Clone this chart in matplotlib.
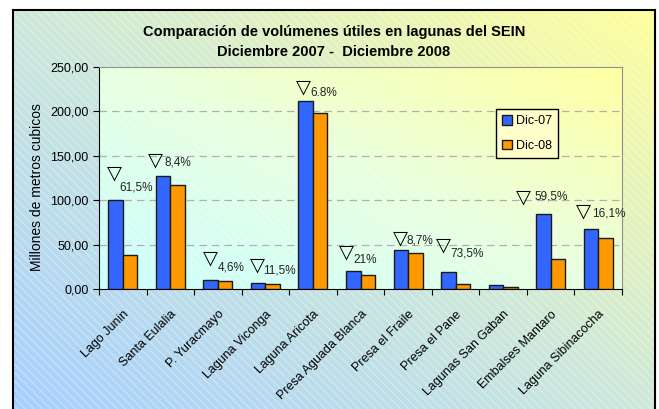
import numpy as np
import matplotlib
matplotlib.use("Agg")
import matplotlib.pyplot as plt
from matplotlib.colors import LinearSegmentedColormap
from matplotlib.patches import Rectangle

categories = ["Lago Junin", "Santa Eulalia", "P. Yuracmayo", "Laguna Viconga",
              "Laguna Aricota", "Presa Aguada Blanca", "Presa el Fraile",
              "Presa el Pane", "Lagunas San Gaban", "Embalses Mantaro",
              "Laguna Sibinacocha"]
dic07 = [100.2, 127.3, 10.1, 7.1, 211.4, 20.6, 43.9, 19.1, 4.1, 84.5, 67.9]
dic08 = [38.3, 116.8, 9.0, 5.6, 198.6, 16.1, 40.2, 5.6, 2.6, 33.8, 57.4]
pct_labels = ["61,5%", "8,4%", "4,6%", "11,5%", "6.8%", "21%", "8,7%",
              "73,5%", "", "59,5%", "16,1%"]
yticks = [0, 50, 100, 150, 200, 250]
ytick_labels = ["0,00", "50,00", "100,00", "150,00", "200,00", "250,00"]

# annotation offsets (pixels) of the triangle from the top of the blue bar
tri_off = [(-1, 27), (-8, 16), (0, 22), (-1, 18), (-2, 14), (-7, 19), (0, 12),
           (-5, 27), (0, 18), (-20, 17), (-8, 18)]
txt_off = [(5, -14), (9, -3), (7, -9), (6, -6), (7, -6), (7, -8), (6, -2),
           (7, -8), (6, -6), (11, 0), (9, -3)]

FONT = ["Liberation Sans Narrow", "Liberation Sans", "DejaVu Sans"]
plt.rcParams["font.family"] = FONT

W, H = 659, 409
fig = plt.figure(figsize=(W / 100, H / 100), dpi=100)
fig.patch.set_facecolor("white")

# outer chart area with diagonal gradient
fl, ft, fr = 13, 10, 655
ax_bg = fig.add_axes([fl / W, 0, (fr - fl) / W, (H - ft) / H])
outer_cmap = LinearSegmentedColormap.from_list(
    "outer", ["#A6CFFF", "#CDE8DA", "#FFFF99"])
xx, yy = np.meshgrid(np.linspace(0, 1, 200), np.linspace(0, 1, 200))
ax_bg.imshow((xx + yy) / 2, cmap=outer_cmap, origin="lower",
             extent=[0, 1, 0, 1], aspect="auto", zorder=0)
hatch_bg = Rectangle((0, 0), 1, 1, transform=ax_bg.transAxes, fill=False,
                     hatch="\\\\\\\\", edgecolor=(1, 1, 1, 0.3), lw=0, zorder=1)
ax_bg.add_patch(hatch_bg)
ax_bg.set_xlim(0, 1)
ax_bg.set_ylim(0, 1)
ax_bg.set_xticks([])
ax_bg.set_yticks([])
for s in ["left", "top", "right"]:
    ax_bg.spines[s].set_color("black")
    ax_bg.spines[s].set_linewidth(1.5)
ax_bg.spines["bottom"].set_visible(False)

# plot area
pl, pr, pt, pb = 99, 622, 67, 289
ax = fig.add_axes([pl / W, 1 - pb / H, (pr - pl) / W, (pb - pt) / H])
inner_cmap = LinearSegmentedColormap.from_list(
    "inner", ["#C8FFFF", "#E8FFE0", "#FFFF9C"])
n = len(categories)
ax.imshow((xx + yy) / 2, cmap=inner_cmap, origin="lower",
          extent=[-0.5, n - 0.5, 0, 250], aspect="auto", zorder=0)
ax.add_patch(Rectangle((0, 0), 1, 1, transform=ax.transAxes, fill=False,
                       hatch="\\\\\\\\", edgecolor=(1, 1, 1, 0.28), lw=0,
                       zorder=0.5))

x = np.arange(n)
bw = 0.305
ax.bar(x - bw / 2, dic07, bw, color="#3366FF", edgecolor="#1a1a1a",
       lw=1.0, label="Dic-07", zorder=3)
ax.bar(x + bw / 2, dic08, bw, color="#FF9900", edgecolor="#1a1a1a",
       lw=1.0, label="Dic-08", zorder=3)

ax.set_xlim(-0.5, n - 0.5)
ax.set_ylim(0, 250)
ax.set_yticks(yticks)
ax.set_yticklabels(ytick_labels, fontsize=9)
for yv in yticks[1:-1]:
    ax.axhline(yv, color="#B0B0B0", lw=0.9, ls=(0, (6, 4)), zorder=1)

ax.set_xticks(np.arange(n + 1) - 0.5, minor=False)
ax.set_xticklabels([])
ax.set_xticks(x, minor=True)
ax.set_xticklabels(categories, minor=True, rotation=45, ha="right",
                   va="top", fontsize=9, rotation_mode="anchor")
ax.tick_params(axis="x", which="minor", length=0, pad=14)
ax.tick_params(axis="x", which="major", length=4, direction="out",
               color="black")
ax.tick_params(axis="y", length=4, direction="out", color="black")
ax.spines["left"].set_color("black")
ax.spines["bottom"].set_color("black")
ax.spines["top"].set_color("#909090")
ax.spines["right"].set_color("#909090")
ax.set_ylabel("Millones de metros cubicos", fontsize=10)
ax.yaxis.set_label_coords((44 - pl) / (pr - pl), (pb - 187) / (pb - pt))

for i in range(n):
    if not pct_labels[i]:
        continue
    dx, dy = tri_off[i]
    ax.annotate("\u25BD", xy=(x[i] - bw / 2, dic07[i]),
                xytext=(dx, dy), textcoords="offset pixels",
                ha="center", va="center", fontsize=14,
                family=["DejaVu Sans"], zorder=5)
    tx, ty = txt_off[i]
    ax.annotate(pct_labels[i], xy=(x[i] - bw / 2, dic07[i]),
                xytext=(dx + tx, dy + ty), textcoords="offset pixels",
                ha="left", va="center", fontsize=8.5, color="#222222",
                zorder=5)

leg = ax.legend(loc="upper left", bbox_to_anchor=((496 - pl) / (pr - pl),
                1 - (109 - pt) / (pb - pt)),
                fontsize=9, frameon=True, fancybox=False,
                handlelength=0.8, handleheight=0.8, handletextpad=0.3,
                labelspacing=1.0, borderpad=0.5, borderaxespad=0)
leg.get_frame().set_facecolor("#FFFFCC")
leg.get_frame().set_edgecolor("black")
leg.get_frame().set_linewidth(1.0)
leg.get_frame().set_alpha(1)

fig.text(334 / W, 1 - 32 / H, "Comparación de volúmenes útiles en lagunas del SEIN",
         ha="center", va="center", fontsize=10.5, fontweight="bold")
fig.text(334 / W, 1 - 52 / H, "Diciembre 2007 -  Diciembre 2008",
         ha="center", va="center", fontsize=10.5, fontweight="bold")

fig.savefig("out.png", dpi=100)
